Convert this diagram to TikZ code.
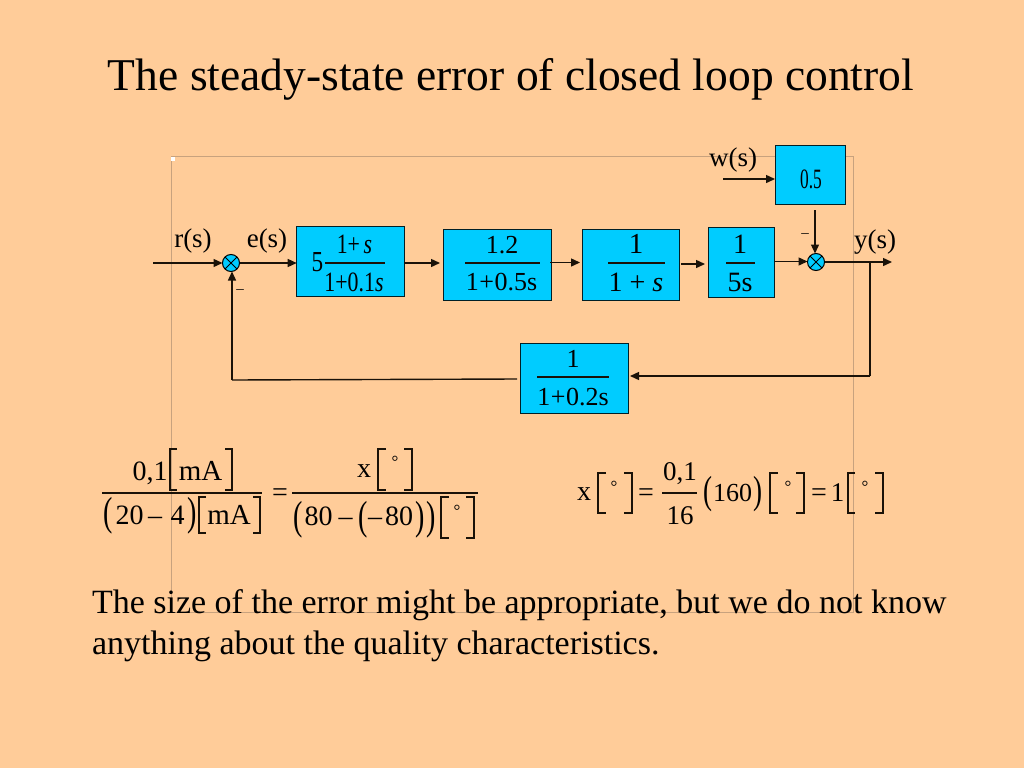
\documentclass[tikz,border=0pt]{standalone}
\usepackage{fontspec}
\setmainfont{Liberation Serif}
\usetikzlibrary{arrows.meta}
\definecolor{bgc}{HTML}{FFCC99}
\definecolor{boxc}{HTML}{00CCFF}
\definecolor{framec}{HTML}{C8A27E}
\definecolor{linec}{HTML}{1A1208}
\tikzset{
  txt/.style={anchor=base,inner sep=0pt,outer sep=0pt,text=black,font=\fontsize{#1}{#1}\selectfont},
  tall/.style={anchor=center,inner sep=0pt,outer sep=0pt,text=black,yscale=1.45,transform shape,font=\fontsize{#1}{#1}\selectfont},
  blockbox/.style={draw=black!85!boxc,line width=1pt,fill=boxc,inner sep=0pt,outer sep=0pt},
  sumnode/.style={circle,draw=black,line width=1pt,fill=boxc,minimum size=17pt,inner sep=0pt,outer sep=0pt,
    path picture={\draw[line width=.9pt,black] (path picture bounding box.north west)--(path picture bounding box.south east)
      (path picture bounding box.north east)--(path picture bounding box.south west);}},
  conn/.style={line width=1.4pt,draw=linec},
  arr/.style={conn,-{Triangle[length=9pt,width=8pt]}},
  rule/.style={line width=1.1pt,draw=linec},
  brk/.style={line width=1.2pt,draw=linec},
  framing/.style={line width=.8pt,draw=framec}
}
\newcommand{\brkL}[4]{\draw[brk] (#2,#3) -| (#1,#4) -- (#2,#4);}
\newcommand{\brkR}[4]{\draw[brk] (#1,#3) -| (#2,#4) -- (#1,#4);}
\begin{document}
\begin{tikzpicture}[x=1pt,y=-1pt]
\useasboundingbox (0,0) rectangle (1024,768);
\fill[bgc] (0,0) rectangle (1024,768);
% frame
\draw[framing] (171,156) rectangle (853.5,612);
\fill[white] (171,156.5) rectangle (175,160.5);
% title
\node[txt=45.5] (title) at (511,90) {The steady-state error of closed loop control};
% blocks
\node[blockbox,minimum width=107.6pt,minimum height=70pt] (b1) at (350.5,261.7) {};
\node[blockbox,minimum width=108pt,minimum height=70.7pt] (b2) at (497.5,265.3) {};
\node[blockbox,minimum width=96.6pt,minimum height=70.7pt] (b3) at (631,264.7) {};
\node[blockbox,minimum width=65.6pt,minimum height=70pt] (b4) at (741.5,262.7) {};
\node[blockbox,minimum width=70.4pt,minimum height=59.7pt] (bw) at (810.5,174.9) {};
\node[blockbox,minimum width=108pt,minimum height=70.3pt] (bf) at (574.3,378.2) {};
\node[sumnode] (s1) at (231,263) {};
\node[sumnode] (s2) at (816,262) {};
% free ends
\coordinate (rin) at (153,263);
\coordinate (yout) at (892,262);
\coordinate (wstart) at (723,179);
\coordinate (branch) at (870,262);
\coordinate (fbcorner) at (870,376);
\coordinate (fbin) at (630,376);
\coordinate (fbout) at (517,379);
\coordinate (lcorner) at (232,380);
\coordinate (b1out) at (404.3,263);
\coordinate (b2in) at (440,263);
\coordinate (b2out) at (550,262.5);
\coordinate (b3in) at (580,262.5);
\coordinate (b3out) at (681,264);
\coordinate (b4in) at (705,264);
\coordinate (b4out) at (774.3,261.5);
\coordinate (bwout) at (815,210);
\coordinate (wend) at (775,179);
% connectors
\draw[arr] (rin) -- (s1);
\draw[arr] (s1) -- (b1.west |- s1);
\draw[arr] (b1out) -- (b2in);
\draw[arr] (b2out) -- (b3in);
\draw[arr] (b3out) -- (b4in);
\draw[arr] (b4out) -- (s2.west |- b4out);
\draw[arr] (s2) -- (yout);
\draw[arr] (wstart) -- (wend);
\draw[arr] (bwout) -- (s2.north -| bwout);
\draw[conn] (branch) -- (fbcorner);
\draw[arr] (fbcorner) -- (fbin);
\draw[conn] (fbout) -- (lcorner);
\draw[arr] (lcorner) -- (s1.south -| lcorner);
% signal labels
\node[txt=27] (lr) at (193,247) {r(s)};
\node[txt=27] (le) at (267,247) {e(s)};
\node[txt=27] (lw) at (733,166) {w(s)};
\node[txt=27] (ly) at (875,248) {y(s)};
\node[txt=15] (m1) at (240,293.5) {–};
\node[txt=15] (m2) at (805,237.5) {–};
% block 1
\node[txt=29,xscale=.8,transform shape] (f1a) at (317.5,271) {5};
\draw[rule] (325,263) -- (385,263);
\node[txt=28,xscale=.78,transform shape] (f1b) at (354.5,253) {1+\,\textit{s}};
\node[txt=28,xscale=.78,transform shape] (f1c) at (354,291) {1+0.1\textit{s}};
% block 2
\node[txt=26] (f2a) at (502,253) {1.2};
\draw[rule] (465,263) -- (540,263);
\node[txt=26] (f2b) at (501.5,290) {1\kern.5pt+\kern.5pt0.5s};
% block 3
\node[txt=29] (f3a) at (636,253) {1};
\draw[rule] (608,263) -- (665,263);
\node[txt=28] (f3b) at (636,291) {1 + \textit{s}};
% block 4
\node[txt=28] (f4a) at (740,253) {1};
\draw[rule] (726,263) -- (755,263);
\node[txt=28] (f4b) at (740,291) {5s};
% block w
\node[txt=28,xscale=.62,transform shape] (fw) at (811,188.5) {0.5};
% feedback block
\node[txt=26] (ffa) at (573,367) {1};
\draw[rule] (537,377) -- (609,377);
\node[txt=26] (ffb) at (573,405) {1\kern.5pt+\kern.5pt0.2s};
% left equation
\node[txt=28] (e1) at (150,480) {0,1};
\brkL{170}{177}{449}{490}
\node[txt=29] (e2) at (200.5,480) {mA};
\brkR{225}{232}{449}{490}
\draw[rule] (102,493) -- (262,493);
\node[tall=28] (e3) at (108,516) {(};
\node[txt=28] (e4) at (129.5,524) {20};
\node[txt=28] (e5) at (155,524) {–};
\node[txt=28] (e6) at (177.5,524) {4};
\node[tall=28] (e7) at (192.5,516) {)};
\brkL{199}{206}{497}{533}
\node[txt=29] (e8) at (229,524) {mA};
\brkR{253}{260}{497}{533}
\node[txt=28] (e9) at (280,501) {=};
\draw[rule] (292,493) -- (478,493);
\node[txt=28] (e10) at (364,477) {x};
\brkL{378}{386}{449}{490}
\node[txt=17] (e11) at (395,467) {\textdegree};
\brkR{404}{412}{449}{490}
\node[tall=28] (e12) at (298.5,520) {(};
\node[txt=28] (e13) at (318.5,525) {80};
\node[txt=28] (e14) at (345.5,525) {–};
\node[tall=28] (e15) at (363,520) {(};
\node[txt=28] (e16) at (375,525) {–};
\node[txt=28] (e17) at (399,525) {80};
\node[tall=28] (e18) at (420,520) {)};
\node[tall=28] (e19) at (431,520) {)};
\brkL{441}{449}{497}{538}
\node[txt=17] (e20) at (457,516) {\textdegree};
\brkR{466}{474}{497}{538}
% right equation
\node[txt=28] (g1) at (584,500) {x};
\brkL{598}{606}{473}{513}
\node[txt=17] (g2) at (614,492) {\textdegree};
\brkR{624}{632}{473}{513}
\node[txt=28] (g3) at (646,501) {=};
\node[txt=27] (g4) at (680,480) {0,1};
\draw[rule] (662,493) -- (697,493);
\node[txt=27] (g5) at (680,524) {16};
\node[tall=27] (g6) at (707.5,494) {(};
\node[txt=26] (g7) at (732.5,501) {160};
\node[tall=27] (g8) at (758,494) {)};
\brkL{770}{778}{473}{513}
\node[txt=17] (g9) at (788,492) {\textdegree};
\brkR{796}{804}{473}{513}
\node[txt=28] (g10) at (819,501) {=};
\node[txt=27] (g11) at (837.5,501) {1};
\brkL{848}{855}{473}{513}
\node[txt=17] (g12) at (865,492) {\textdegree};
\brkR{875}{883}{473}{513}
% closing text
\node[txt=34,anchor=base west] (p1) at (92,613) {The size of the error might be appropriate, but we do not know};
\node[txt=34,anchor=base west] (p2) at (92,654) {anything about the quality characteristics.};
\end{tikzpicture}
\end{document}
